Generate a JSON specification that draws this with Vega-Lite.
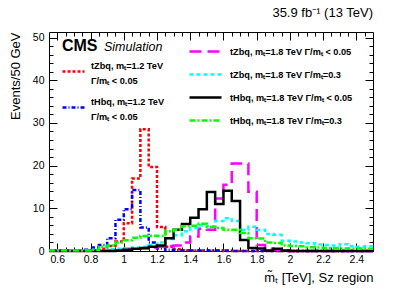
{
  "$schema": "https://vega.github.io/schema/vega-lite/v6.json",
  "width": 324,
  "height": 219,
  "autosize": {"type": "none"},
  "padding": {"left": 49, "top": 32, "right": 34, "bottom": 41},
  "background": "white",
  "title": {"text": "35.9 fb⁻¹ (13 TeV)", "anchor": "end", "frame": "group", "fontSize": 13, "fontWeight": "normal", "font": "Liberation Sans", "color": "black", "offset": 12},
  "config": {
    "view": {"stroke": "black", "strokeWidth": 1},
    "axis": {"grid": false, "domain": false, "labelFont": "Liberation Sans", "titleFont": "Liberation Sans", "labelColor": "black", "titleColor": "black", "tickColor": "black", "labelFontSize": 10.5, "titleFontSize": 13, "titleFontWeight": "normal"},
    "legend": {"symbolType": "stroke", "symbolStrokeWidth": 2.5, "labelFont": "Liberation Sans", "labelFontWeight": "bold", "labelFontSize": 9.2, "labelColor": "black", "padding": 0, "labelLimit": 300}
  },
  "datasets": {
    "h": [
      {"x": 0.55, "tZbq12": 0.1, "tHbq12": 0.1, "tZbq18n": 0.1, "tZbq18w": 0.1, "tHbq18n": 0, "tHbq18w": 0.1},
      {"x": 0.60, "tZbq12": 0.1, "tHbq12": 0.1, "tZbq18n": 0.1, "tZbq18w": 0.1, "tHbq18n": 0, "tHbq18w": 0.1},
      {"x": 0.65, "tZbq12": 0.1, "tHbq12": 0.1, "tZbq18n": 0.1, "tZbq18w": 0.1, "tHbq18n": 0, "tHbq18w": 0.1},
      {"x": 0.70, "tZbq12": 0.1, "tHbq12": 0.1, "tZbq18n": 0.1, "tZbq18w": 0.1, "tHbq18n": 0, "tHbq18w": 0.1},
      {"x": 0.75, "tZbq12": 0.1, "tHbq12": 0.3, "tZbq18n": 0.1, "tZbq18w": 0.1, "tHbq18n": 0, "tHbq18w": 0.1},
      {"x": 0.80, "tZbq12": 0.2, "tHbq12": 0.8, "tZbq18n": 0.1, "tZbq18w": 0.1, "tHbq18n": 0, "tHbq18w": 0.3},
      {"x": 0.85, "tZbq12": 0.5, "tHbq12": 1.4, "tZbq18n": 0.1, "tZbq18w": 0.2, "tHbq18n": 0, "tHbq18w": 1.0},
      {"x": 0.90, "tZbq12": 1.2, "tHbq12": 3.0, "tZbq18n": 0.1, "tZbq18w": 0.4, "tHbq18n": 0, "tHbq18w": 1.3},
      {"x": 0.95, "tZbq12": 2.2, "tHbq12": 7.3, "tZbq18n": 0.3, "tZbq18w": 0.5, "tHbq18n": 0.1, "tHbq18w": 2.0},
      {"x": 1.00, "tZbq12": 6.5, "tHbq12": 9.8, "tZbq18n": 0.5, "tZbq18w": 0.6, "tHbq18n": 0.3, "tHbq18w": 2.5},
      {"x": 1.05, "tZbq12": 17.0, "tHbq12": 14.3, "tZbq18n": 0.5, "tZbq18w": 0.8, "tHbq18n": 0.5, "tHbq18w": 3.1},
      {"x": 1.10, "tZbq12": 28.5, "tHbq12": 5.5, "tZbq18n": 0.6, "tZbq18w": 1.0, "tHbq18n": 0.7, "tHbq18w": 3.5},
      {"x": 1.15, "tZbq12": 19.7, "tHbq12": 2.0, "tZbq18n": 0.8, "tZbq18w": 1.4, "tHbq18n": 1.0, "tHbq18w": 3.6},
      {"x": 1.20, "tZbq12": 5.6, "tHbq12": 0.6, "tZbq18n": 1.0, "tZbq18w": 2.0, "tHbq18n": 1.3, "tHbq18w": 3.5},
      {"x": 1.25, "tZbq12": 1.0, "tHbq12": 0.3, "tZbq18n": 1.2, "tZbq18w": 2.8, "tHbq18n": 3.0, "tHbq18w": 4.6},
      {"x": 1.30, "tZbq12": 0.4, "tHbq12": 0.2, "tZbq18n": 1.3, "tZbq18w": 3.7, "tHbq18n": 5.0, "tHbq18w": 5.0},
      {"x": 1.35, "tZbq12": 0.2, "tHbq12": 0.1, "tZbq18n": 2.0, "tZbq18w": 4.6, "tHbq18n": 6.3, "tHbq18w": 5.8},
      {"x": 1.40, "tZbq12": 0.1, "tHbq12": 0.1, "tZbq18n": 3.4, "tZbq18w": 5.4, "tHbq18n": 7.8, "tHbq18w": 5.9},
      {"x": 1.45, "tZbq12": 0.1, "tHbq12": 0.1, "tZbq18n": 5.2, "tZbq18w": 6.0, "tHbq18n": 9.8, "tHbq18w": 6.4},
      {"x": 1.50, "tZbq12": 0.1, "tHbq12": 0.1, "tZbq18n": 5.0, "tZbq18w": 5.8, "tHbq18n": 13.8, "tHbq18w": 5.6},
      {"x": 1.55, "tZbq12": 0.1, "tHbq12": 0.1, "tZbq18n": 12.3, "tZbq18w": 7.0, "tHbq18n": 11.0, "tHbq18w": 5.4},
      {"x": 1.60, "tZbq12": 0, "tHbq12": 0.1, "tZbq18n": 15.5, "tZbq18w": 7.7, "tHbq18n": 14.1, "tHbq18w": 5.0},
      {"x": 1.65, "tZbq12": 0, "tHbq12": 0, "tZbq18n": 20.5, "tZbq18w": 7.0, "tHbq18n": 11.7, "tHbq18w": 5.0},
      {"x": 1.70, "tZbq12": 0, "tHbq12": 0, "tZbq18n": 20.5, "tZbq18w": 5.0, "tHbq18n": 2.6, "tHbq18w": 4.2},
      {"x": 1.75, "tZbq12": 0, "tHbq12": 0, "tZbq18n": 13.9, "tZbq18w": 5.7, "tHbq18n": 0.7, "tHbq18w": 3.0},
      {"x": 1.80, "tZbq12": 0, "tHbq12": 0, "tZbq18n": 1.4, "tZbq18w": 5.0, "tHbq18n": 0.6, "tHbq18w": 2.9},
      {"x": 1.85, "tZbq12": 0, "tHbq12": 0, "tZbq18n": 0.5, "tZbq18w": 4.0, "tHbq18n": 0.1, "tHbq18w": 2.0},
      {"x": 1.90, "tZbq12": 0, "tHbq12": 0, "tZbq18n": 0.3, "tZbq18w": 3.8, "tHbq18n": 0.5, "tHbq18w": 1.9},
      {"x": 1.95, "tZbq12": 0, "tHbq12": 0, "tZbq18n": 0.1, "tZbq18w": 2.4, "tHbq18n": 0.1, "tHbq18w": 1.3},
      {"x": 2.00, "tZbq12": 0, "tHbq12": 0, "tZbq18n": 0, "tZbq18w": 2.2, "tHbq18n": 0, "tHbq18w": 1.2},
      {"x": 2.05, "tZbq12": 0, "tHbq12": 0, "tZbq18n": 0, "tZbq18w": 2.0, "tHbq18n": 0, "tHbq18w": 1.1},
      {"x": 2.10, "tZbq12": 0, "tHbq12": 0, "tZbq18n": 0, "tZbq18w": 1.8, "tHbq18n": 0, "tHbq18w": 0.9},
      {"x": 2.15, "tZbq12": 0, "tHbq12": 0, "tZbq18n": 0, "tZbq18w": 1.5, "tHbq18n": 0, "tHbq18w": 0.8},
      {"x": 2.20, "tZbq12": 0, "tHbq12": 0, "tZbq18n": 0, "tZbq18w": 1.4, "tHbq18n": 0, "tHbq18w": 0.7},
      {"x": 2.25, "tZbq12": 0, "tHbq12": 0, "tZbq18n": 0, "tZbq18w": 1.3, "tHbq18n": 0, "tHbq18w": 0.7},
      {"x": 2.30, "tZbq12": 0, "tHbq12": 0, "tZbq18n": 0, "tZbq18w": 1.6, "tHbq18n": 0, "tHbq18w": 0.6},
      {"x": 2.35, "tZbq12": 0, "tHbq12": 0, "tZbq18n": 0, "tZbq18w": 1.2, "tHbq18n": 0, "tHbq18w": 0.6},
      {"x": 2.40, "tZbq12": 0, "tHbq12": 0, "tZbq18n": 0, "tZbq18w": 1.0, "tHbq18n": 0, "tHbq18w": 0.6},
      {"x": 2.45, "tZbq12": 0, "tHbq12": 0, "tZbq18n": 0, "tZbq18w": 1.1, "tHbq18n": 0, "tHbq18w": 0.5},
      {"x": 2.50, "tZbq12": 0, "tHbq12": 0, "tZbq18n": 0, "tZbq18w": 1.1, "tHbq18n": 0, "tHbq18w": 0.5}
    ]
  },
  "data": {"name": "h"},
  "resolve": {
    "scale": {"color": "independent", "strokeDash": "independent"},
    "axis": {"x": "independent", "y": "independent"}
  },
  "layer": [
    {
      "transform": [{"fold": ["tZbq12", "tHbq12"], "as": ["s", "v"]}],
      "mark": {"type": "line", "interpolate": "step-after", "strokeWidth": 2.5},
      "encoding": {
        "x": {"field": "x", "type": "quantitative", "scale": {"domain": [0.55, 2.5], "nice": false, "zero": false},
          "axis": {"orient": "bottom", "values": [0.6, 0.8, 1, 1.2, 1.4, 1.6, 1.8, 2, 2.2, 2.4], "format": "~g", "tickSize": -8, "labelPadding": 11, "title": "m̃ₜ [TeV], Sᴢ region", "titleAnchor": "end", "titlePadding": 7}},
        "y": {"field": "v", "type": "quantitative", "scale": {"domain": [0, 51.3], "nice": false},
          "axis": {"orient": "left", "values": [0, 10, 20, 30, 40, 50], "tickSize": -8, "labelPadding": 13, "title": "Events/50 GeV", "titleAnchor": "end", "titlePadding": 10}},
        "color": {"field": "s", "type": "nominal", "scale": {"domain": ["tZbq12", "tHbq12"], "range": ["#ff0000", "#0000ff"]},
          "legend": {"title": null, "orient": "none", "legendX": 12, "legendY": 27, "symbolSize": 484, "labelOffset": 5, "rowPadding": 8,
            "encoding": {"labels": {"lineHeight": {"value": 15.5}, "dy": {"value": -6}}},
            "labelExpr": "datum.value == 'tZbq12' ? ['tZbq, mₜ=1.2 TeV', 'Γ/mₜ < 0.05'] : ['tHbq, mₜ=1.2 TeV', 'Γ/mₜ < 0.05']"}},
        "strokeDash": {"field": "s", "type": "nominal", "scale": {"domain": ["tZbq12", "tHbq12"], "range": [[3, 2], [4, 2, 1, 2]]},
          "legend": {"title": null, "orient": "none", "legendX": 12, "legendY": 27, "symbolSize": 484, "labelOffset": 5, "rowPadding": 8,
            "encoding": {"labels": {"lineHeight": {"value": 15.5}, "dy": {"value": -6}}},
            "labelExpr": "datum.value == 'tZbq12' ? ['tZbq, mₜ=1.2 TeV', 'Γ/mₜ < 0.05'] : ['tHbq, mₜ=1.2 TeV', 'Γ/mₜ < 0.05']"}}
      }
    },
    {
      "transform": [{"fold": ["tZbq18n", "tZbq18w", "tHbq18n", "tHbq18w"], "as": ["s", "v"]}],
      "mark": {"type": "line", "interpolate": "step-after", "strokeWidth": 2.5},
      "encoding": {
        "x": {"field": "x", "type": "quantitative", "scale": {"domain": [0.55, 2.5], "nice": false, "zero": false},
          "axis": {"orient": "top", "values": [0.6, 0.8, 1, 1.2, 1.4, 1.6, 1.8, 2, 2.2, 2.4], "tickSize": -8, "labels": false, "title": null}},
        "y": {"field": "v", "type": "quantitative", "scale": {"domain": [0, 51.3], "nice": false},
          "axis": {"orient": "right", "values": [0, 10, 20, 30, 40, 50], "tickSize": -8, "labels": false, "title": null}},
        "color": {"field": "s", "type": "nominal", "scale": {"domain": ["tZbq18n", "tZbq18w", "tHbq18n", "tHbq18w"], "range": ["#ff00ff", "#00ffff", "#000000", "#00ff00"]},
          "legend": {"title": null, "orient": "none", "legendX": 139, "legendY": 2, "symbolSize": 1024, "labelOffset": 7, "rowPadding": -8.7,
            "labelExpr": "datum.value == 'tZbq18n' ? 'tZbq, mₜ=1.8 TeV  Γ/mₜ < 0.05' : datum.value == 'tZbq18w' ? 'tZbq, mₜ=1.8 TeV  Γ/mₜ=0.3' : datum.value == 'tHbq18n' ? 'tHbq, mₜ=1.8 TeV  Γ/mₜ < 0.05' : 'tHbq, mₜ=1.8 TeV  Γ/mₜ=0.3'"}},
        "strokeDash": {"field": "s", "type": "nominal", "scale": {"domain": ["tZbq18n", "tZbq18w", "tHbq18n", "tHbq18w"], "range": [[12, 6], [4, 3], [1, 0], [6, 2, 2, 2]]},
          "legend": {"title": null, "orient": "none", "legendX": 139, "legendY": 2, "symbolSize": 1024, "labelOffset": 7, "rowPadding": -8.7,
            "labelExpr": "datum.value == 'tZbq18n' ? 'tZbq, mₜ=1.8 TeV  Γ/mₜ < 0.05' : datum.value == 'tZbq18w' ? 'tZbq, mₜ=1.8 TeV  Γ/mₜ=0.3' : datum.value == 'tHbq18n' ? 'tHbq, mₜ=1.8 TeV  Γ/mₜ < 0.05' : 'tHbq, mₜ=1.8 TeV  Γ/mₜ=0.3'"}}
      }
    },
    {
      "data": {"values": [{}]},
      "mark": {"type": "text", "text": "CMS", "font": "Liberation Sans", "fontWeight": "bold", "fontSize": 16, "align": "left", "baseline": "alphabetic", "color": "black"},
      "encoding": {
        "x": {"datum": 0.628, "type": "quantitative", "scale": {"domain": [0.55, 2.5], "nice": false, "zero": false},
          "axis": {"orient": "bottom", "values": [0.6, 0.65, 0.7, 0.75, 0.8, 0.85, 0.9, 0.95, 1, 1.05, 1.1, 1.15, 1.2, 1.25, 1.3, 1.35, 1.4, 1.45, 1.5, 1.55, 1.6, 1.65, 1.7, 1.75, 1.8, 1.85, 1.9, 1.95, 2, 2.05, 2.1, 2.15, 2.2, 2.25, 2.3, 2.35, 2.4, 2.45], "tickSize": -4, "labels": false, "title": null}},
        "y": {"datum": 46.8, "type": "quantitative", "scale": {"domain": [0, 51.3], "nice": false},
          "axis": {"orient": "left", "values": [0, 2, 4, 6, 8, 10, 12, 14, 16, 18, 20, 22, 24, 26, 28, 30, 32, 34, 36, 38, 40, 42, 44, 46, 48, 50], "tickSize": -4, "labels": false, "title": null}}
      }
    },
    {
      "data": {"values": [{}]},
      "mark": {"type": "text", "text": "Simulation", "font": "Liberation Sans", "fontStyle": "italic", "fontSize": 12.5, "align": "left", "baseline": "alphabetic", "color": "black"},
      "encoding": {
        "x": {"datum": 0.881, "type": "quantitative", "scale": {"domain": [0.55, 2.5], "nice": false, "zero": false},
          "axis": {"orient": "top", "values": [0.6, 0.65, 0.7, 0.75, 0.8, 0.85, 0.9, 0.95, 1, 1.05, 1.1, 1.15, 1.2, 1.25, 1.3, 1.35, 1.4, 1.45, 1.5, 1.55, 1.6, 1.65, 1.7, 1.75, 1.8, 1.85, 1.9, 1.95, 2, 2.05, 2.1, 2.15, 2.2, 2.25, 2.3, 2.35, 2.4, 2.45], "tickSize": -4, "labels": false, "title": null}},
        "y": {"datum": 46.8, "type": "quantitative", "scale": {"domain": [0, 51.3], "nice": false},
          "axis": {"orient": "right", "values": [0, 2, 4, 6, 8, 10, 12, 14, 16, 18, 20, 22, 24, 26, 28, 30, 32, 34, 36, 38, 40, 42, 44, 46, 48, 50], "tickSize": -4, "labels": false, "title": null}}
      }
    }
  ]
}
